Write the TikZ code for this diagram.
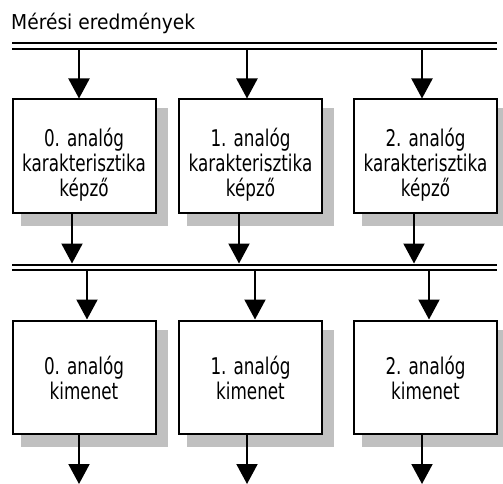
\documentclass[tikz,border=0pt]{standalone}
\usepackage{fontspec}
\newfontfamily\boxfont[FakeStretch=0.73]{DejaVu Sans}
\newfontfamily\titlefont[FakeStretch=0.91]{DejaVu Sans}
\usetikzlibrary{arrows.meta,backgrounds}
\definecolor{shadowgray}{RGB}{192,192,192}
\newcommand{\upstrut}[1]{\rule{0pt}{#1}}
\tikzset{
  blk/.style={draw, line width=2pt, fill=white, minimum width=143pt, minimum height=113pt,
    inner sep=0pt, align=center, font=\boxfont\fontsize{23}{25}\selectfont},
  shadowbox/.style={fill=shadowgray},
  arr/.style={line width=2pt, -{Triangle[length=20pt,width=21pt]}},
  busline/.style={line width=2pt},
}
\newcommand{\boxshadow}[1]{%
  \fill[shadowbox] ([xshift=9pt,yshift=-12pt]#1.south west) rectangle ([xshift=11pt,yshift=-10pt]#1.north east);}
\begin{document}
\begin{tikzpicture}[x=1pt,y=-1pt]
\useasboundingbox (0,0) rectangle (503,484);
\node[anchor=base west, inner sep=0pt, font=\titlefont\fontsize{20.5}{24}\selectfont] (title) at (11,30) {Mérési eredmények};

% buses
\coordinate (b1al) at (12,43.5); \coordinate (b1ar) at (497,43.5);
\coordinate (b1bl) at (12,49.5); \coordinate (b1br) at (497,49.5);
\coordinate (b2al) at (12,264.5); \coordinate (b2ar) at (497,264.5);
\coordinate (b2bl) at (12,269.5); \coordinate (b2br) at (497,269.5);
\draw[busline] (b1al) -- (b1ar);
\draw[busline] (b1bl) -- (b1br);
\draw[busline] (b2al) -- (b2ar);
\draw[busline] (b2bl) -- (b2br);

% row 1
\node[blk] (k0) at (84,156) {\upstrut{35pt}0. analóg\\karakterisztika\\képző};
\node[blk] (k1) at (250.5,156) {\upstrut{35pt}1. analóg\\karakterisztika\\képző};
\node[blk] (k2) at (425.5,156) {\upstrut{35pt}2. analóg\\karakterisztika\\képző};

% row 2
\node[blk] (o0) at (84,377) {\upstrut{21pt}0. analóg\\kimenet};
\node[blk] (o1) at (250.5,377) {\upstrut{21pt}1. analóg\\kimenet};
\node[blk] (o2) at (425.5,377) {\upstrut{21pt}2. analóg\\kimenet};

\begin{pgfonlayer}{background}
  \boxshadow{k0}\boxshadow{k1}\boxshadow{k2}
  \boxshadow{o0}\boxshadow{o1}\boxshadow{o2}
\end{pgfonlayer}

% bus 1 taps
\coordinate (t0) at (79,50); \coordinate (t1) at (247,50); \coordinate (t2) at (422,50);
\draw[arr] (t0) -- (t0 |- k0.north);
\draw[arr] (t1) -- (t1 |- k1.north);
\draw[arr] (t2) -- (t2 |- k2.north);

% row 1 to bus 2
\coordinate (u0) at (72,263.5); \coordinate (u1) at (239,263.5); \coordinate (u2) at (414,263.5);
\draw[arr] (u0 |- k0.south) -- (u0);
\draw[arr] (u1 |- k1.south) -- (u1);
\draw[arr] (u2 |- k2.south) -- (u2);

% bus 2 to row 2
\coordinate (v0) at (87,270); \coordinate (v1) at (255,270); \coordinate (v2) at (429,270);
\draw[arr] (v0) -- (v0 |- o0.north);
\draw[arr] (v1) -- (v1 |- o1.north);
\draw[arr] (v2) -- (v2 |- o2.north);

% outputs
\coordinate (w0) at (79,484); \coordinate (w1) at (247,484); \coordinate (w2) at (422,484);
\draw[arr] (w0 |- o0.south) -- (w0);
\draw[arr] (w1 |- o1.south) -- (w1);
\draw[arr] (w2 |- o2.south) -- (w2);
\end{tikzpicture}
\end{document}
